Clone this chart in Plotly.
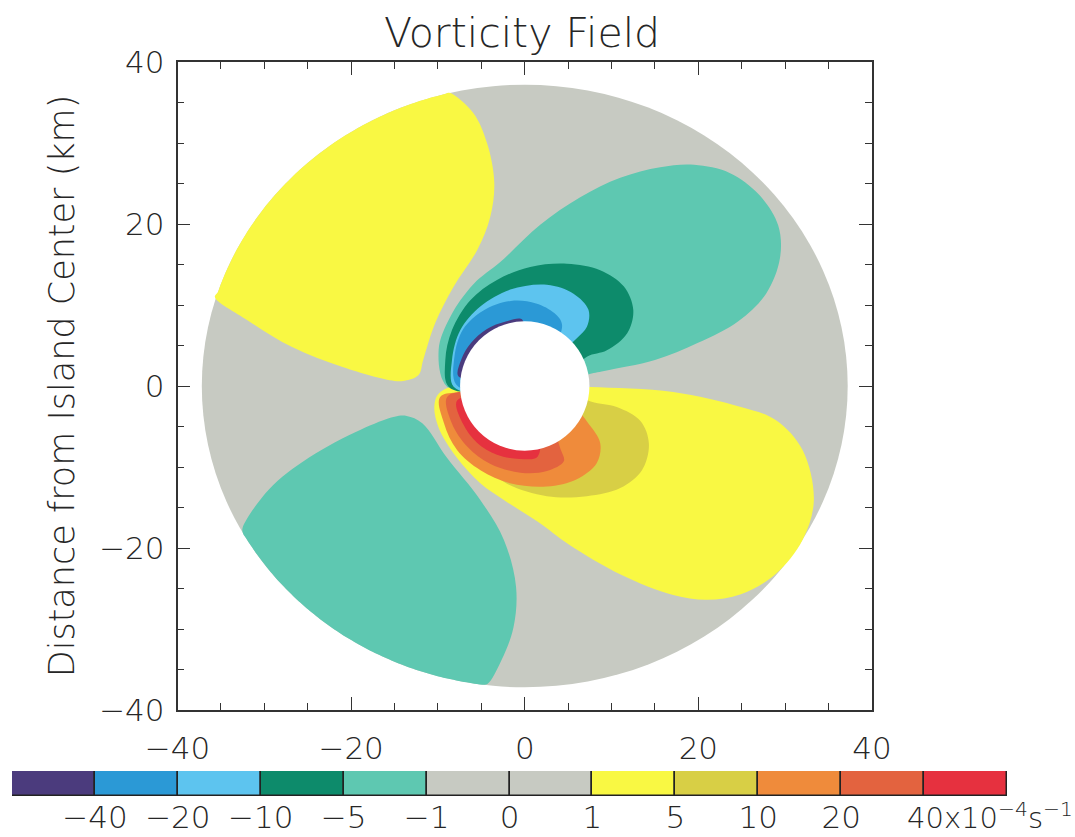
import numpy as np
import plotly.graph_objects as go

# ---- vorticity bands (x10^-4 s^-1): edge labels and fill colour of each band ----
LEVEL_EDGES = ["\u221240", "\u221220", "\u221210", "\u22125", "\u22121",
               "0", "1", "5", "10", "20"]
LAST_EDGE_LABEL = "40x10<sup>\u22124</sup>s<sup>\u22121</sup>"
BAND_COLORS = ["#4b3b7d", "#2b99d6", "#5dc4ef", "#0d8b6b", "#5ec8b1",
               "#c7cac2", "#c7cac2", "#f9f843", "#d8cf45", "#ef8b3b",
               "#e3633f", "#e6313f"]

# ---- model domain ----
DOMAIN_RADIUS_KM = 37.2
ISLAND_HALF_WIDTH_KM = 7.45
ISLAND_HALF_HEIGHT_KM = 8.0

# ---- contour outlines (km from island centre) ----
# lobes touching the outer rim: listed inner edge, closed along the rim
NW_YELLOW_X = [-8.69, -5.93, -4.32, -3.51, -3.97, -5.47, -8.23, -10.3, -11.7,
               -12.2, -13.6, -15.0, -20.9, -26.8, -31.9, -35.7]
NW_YELLOW_Y = [36.2, 33.7, 29.9, 25.1, 20.9, 16.8, 12.2, 7.8, 3.2,
               1.4, 0.7, 0.62, 2.3, 4.8, 8.1, 11.0]

SW_TURQ_X = [-4.3, -2.7, -1.3, -1.0, -2.4, -5.1, -9.0, -11.8, -13.6, -15.0,
             -18.9, -24.8, -29.5, -32.5]
SW_TURQ_Y = [-36.8, -33.9, -29.8, -24.8, -19.0, -14.1, -8.8, -4.6, -3.7, -3.8,
             -5.4, -8.8, -12.8, -17.5]

# negative lobe north-east of the island and its inner bands
NE_TURQ_X = [-8.92, -9.92, -8.57, -5.89, -2.82, 1.78, 6.39, 11.0, 15.6, 19.5,
             23.6, 27.0, 29.2, 29.4, 27.8, 24.6, 19.9, 15.0, 9.15, 7.2, 3.0, -3.0]
NE_TURQ_Y = [-0.12, 4.44, 8.56, 12.6, 15.3, 19.9, 23.3, 25.7, 27.0, 27.3,
             26.3, 23.6, 19.8, 15.8, 11.4, 8.0, 5.3, 3.2, 1.85, 1.4, 0.0, -1.0]

NE_DKGREEN_X = [-8.77, -9.15, -8.38, -6.27, -3.2, 0.63, 4.86, 8.69, 11.4, 12.5,
                11.8, 9.46, 7.16, 4.5, 0.0, -4.5]
NE_DKGREEN_Y = [-0.08, 3.2, 6.9, 10.6, 13.1, 14.7, 15.1, 14.3, 12.3, 9.4,
                6.5, 4.4, 3.6, 1.0, -1.5, -1.0]

NE_LTBLUE_X = [-8.19, -8.38, -7.42, -5.12, -1.67, 2.55, 5.62, 7.34, 7.16, 6.0,
               3.0, 0.0, -4.5]
NE_LTBLUE_Y = [-0.1, 3.2, 6.9, 9.8, 11.9, 12.5, 11.4, 9.4, 7.3, 5.9,
               3.0, -1.0, -1.0]

NE_BLUE_X = [-7.9, -8.1, -7.1, -4.8, -1.6, 1.3, 3.4, 4.3, 2.0, 0.0, -4.5]
NE_BLUE_Y = [0.2, 3.6, 7.0, 9.3, 10.5, 10.2, 9.0, 7.5, 2.0, -1.0, -1.0]

NE_PURPLE_X = [-7.65, -7.3, -6.2, -4.4, -2.2, -0.3, -1.0, -4.5]
NE_PURPLE_Y = [1.2, 3.3, 5.3, 7.0, 7.95, 8.2, 4.0, 1.0]

# positive lobe south-east of the island and its inner bands
SE_YELLOW_X = [-9.72, -10.4, -9.95, -7.88, -5.12, -2.36, 1.55, 5.12, 11.1, 17.1,
               21.0, 24.9, 28.9, 32.0, 33.3, 32.0, 28.9, 24.9, 17.1, 7.54, 3.0, -3.0]
SE_YELLOW_Y = [-0.74, -2.35, -5.06, -8.77, -12.0, -14.1, -16.8, -19.6, -23.3, -25.8,
               -26.4, -25.7, -23.2, -19.0, -14.1, -7.9, -4.2, -2.6, -0.74, -0.12, 0.0, 1.0]

SE_OLIVE_X = [-7.0, -4.85, -2.15, 2.55, 7.15, 11.0, 13.5, 14.3, 13.3, 10.6, 7.6, 3.0, -3.0]
SE_OLIVE_Y = [-7.2, -9.5, -12.0, -13.6, -13.6, -12.6, -10.4, -7.1, -4.3, -2.6, -1.9, 0.0, -2.0]

SE_ORANGE_X = [-9.7, -9.3, -7.8, -5.1, -1.7, 2.55, 6.0, 8.3, 8.7, 7.6, 3.0, -3.0]
SE_ORANGE_Y = [-1.3, -4.6, -7.9, -10.4, -12.0, -12.4, -11.5, -9.5, -7.1, -5.0, 0.0, -1.0]

SE_REDORANGE_X = [-8.9, -8.4, -6.6, -4.0, -0.5, 2.55, 4.5, 4.2, 2.0, -3.0]
SE_REDORANGE_Y = [-1.3, -4.6, -7.5, -9.6, -10.7, -10.5, -9.3, -8.0, -3.0, -1.0]

SE_RED_X = [-7.8, -7.1, -5.5, -3.2, -0.6, 1.5, 1.0, -3.0]
SE_RED_Y = [-1.8, -4.7, -7.0, -8.5, -9.0, -8.7, -3.0, -1.0]

REGIONS = [  # (x, y, band index, closes along outer rim)
    (NW_YELLOW_X, NW_YELLOW_Y, 7, True),
    (SW_TURQ_X, SW_TURQ_Y, 4, True),
    (NE_TURQ_X, NE_TURQ_Y, 4, False),
    (SE_YELLOW_X, SE_YELLOW_Y, 7, False),
    (NE_DKGREEN_X, NE_DKGREEN_Y, 3, False),
    (NE_LTBLUE_X, NE_LTBLUE_Y, 2, False),
    (NE_BLUE_X, NE_BLUE_Y, 1, False),
    (NE_PURPLE_X, NE_PURPLE_Y, 0, False),
    (SE_OLIVE_X, SE_OLIVE_Y, 8, False),
    (SE_ORANGE_X, SE_ORANGE_Y, 9, False),
    (SE_REDORANGE_X, SE_REDORANGE_Y, 10, False),
    (SE_RED_X, SE_RED_Y, 11, False),
]

FONT = "DejaVu Sans"
INK = "#262626"


def outline(xs, ys, on_rim):
    """Closed outline; lobes that reach the rim are closed along the domain edge."""
    x = np.asarray(xs, float)
    y = np.asarray(ys, float)
    if on_rim:
        a0 = np.arctan2(y[-1], x[-1])
        a1 = np.arctan2(y[0], x[0])
        d = (a1 - a0 + np.pi) % (2 * np.pi) - np.pi
        t = a0 + d * np.linspace(0.0, 1.0, 60)[1:-1]
        x = np.concatenate([x, DOMAIN_RADIUS_KM * np.cos(t)])
        y = np.concatenate([y, DOMAIN_RADIUS_KM * np.sin(t)])
    return np.append(x, x[0]), np.append(y, y[0])


fig = go.Figure()

for xs, ys, band, on_rim in REGIONS:
    ox, oy = outline(xs, ys, on_rim)
    fig.add_trace(go.Scatter(
        x=ox, y=oy, mode="lines", fill="toself",
        fillcolor=BAND_COLORS[band],
        line=dict(width=0, shape="spline", smoothing=1.0, color=BAND_COLORS[band]),
        hoverinfo="skip", showlegend=False, xaxis="x", yaxis="y"))

# colour key: one box per band, labels on the band edges
fig.add_trace(go.Bar(
    x=list(range(len(BAND_COLORS))), y=[1] * len(BAND_COLORS), width=1.0,
    marker=dict(color=BAND_COLORS, line=dict(color="#222222", width=1.5)),
    cliponaxis=False, hoverinfo="skip", showlegend=False,
    xaxis="x2", yaxis="y2"))

# domain disk and island
fig.add_shape(type="circle", xref="x", yref="y",
              x0=-DOMAIN_RADIUS_KM, x1=DOMAIN_RADIUS_KM,
              y0=-DOMAIN_RADIUS_KM, y1=DOMAIN_RADIUS_KM,
              fillcolor=BAND_COLORS[5], line=dict(width=0), layer="below")
fig.add_shape(type="circle", xref="x", yref="y",
              x0=-ISLAND_HALF_WIDTH_KM, x1=ISLAND_HALF_WIDTH_KM,
              y0=-ISLAND_HALF_HEIGHT_KM, y1=ISLAND_HALF_HEIGHT_KM,
              fillcolor="white", line=dict(width=0), layer="above")

W, H = 1075, 837
ML, MR, MT, MB = 12, 68, 62, 41
PW, PH = W - ML - MR, H - MT - MB


def px_to_paper_x(px):
    return (px - ML) / PW


def px_to_paper_y(py):
    return (H - MB - py) / PH


axis_common = dict(
    range=[-40, 40], dtick=20, tick0=-40, ticks="inside", ticklen=13, tickwidth=1.3,
    tickcolor="#333333", showline=True, linecolor="#333333", linewidth=1.5,
    mirror="ticks", showgrid=False, zeroline=False, automargin=False,
    minor=dict(dtick=5, tick0=-40, ticks="inside", ticklen=7, tickwidth=1.2,
               tickcolor="#333333", showgrid=False),
    tickfont=dict(family=FONT, size=31, color=INK, weight=200),
)

fig.update_layout(
    width=W, height=H,
    margin=dict(l=ML, r=MR, t=MT, b=MB, autoexpand=False),
    paper_bgcolor="white", plot_bgcolor="white",
    font=dict(family=FONT, color=INK, weight=200),
    title=dict(text="Vorticity Field", x=px_to_paper_x(522), xref="paper",
               y=1 - 33 / H, yref="container", xanchor="center", yanchor="middle",
               font=dict(family=FONT, size=41, color=INK, weight=200)),
    xaxis=dict(domain=[px_to_paper_x(177.5), px_to_paper_x(872)], anchor="y",
               ticklabelstandoff=10, **axis_common),
    yaxis=dict(domain=[px_to_paper_y(710), px_to_paper_y(62)], anchor="x",
               ticklabelstandoff=5,
               title=dict(text="Distance from Island Center (km)", standoff=14,
                          font=dict(family=FONT, size=35, color=INK, weight=200)),
               **axis_common),
    xaxis2=dict(domain=[0, 1], anchor="y2", range=[-0.5, len(BAND_COLORS) - 0.5],
                tickvals=[i + 0.5 for i in range(len(LEVEL_EDGES))],
                ticktext=LEVEL_EDGES, ticks="", showline=False, showgrid=False,
                zeroline=False, ticklabelstandoff=0, automargin=False,
                tickfont=dict(family=FONT, size=31, color=INK, weight=200)),
    yaxis2=dict(domain=[0, px_to_paper_y(771)], anchor="x2", range=[0, 1],
                visible=False, automargin=False),
    bargap=0,
)

fig.add_annotation(text=LAST_EDGE_LABEL, xref="paper", yref="paper",
                   x=px_to_paper_x(1075), y=px_to_paper_y(816),
                   xanchor="right", yanchor="middle", showarrow=False,
                   font=dict(family=FONT, size=29, color=INK, weight=200))

fig.write_html("out.html")
